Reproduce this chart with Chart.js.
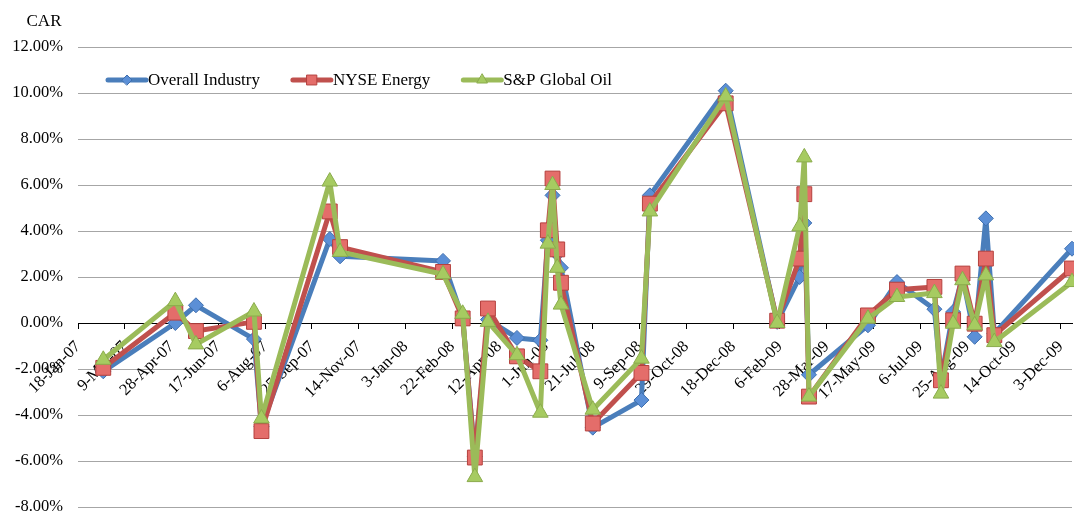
<!DOCTYPE html>
<html>
<head>
<meta charset="utf-8">
<script src="https://cdn.jsdelivr.net/npm/chart.js@4.4.0/dist/chart.umd.min.js"></script>
<style>
html, body { margin: 0; padding: 0; background: #fff; }
#wrap { width: 1074px; height: 515px; }
</style>
</head>
<body>
<div id="wrap"><canvas id="car-chart" width="1074" height="515"></canvas></div>
<script>
// Event dates and CAR (%) per index
const eventDates = [
    '2007-02-14', '2007-05-02', '2007-05-24', '2007-07-25', '2007-08-02',
    '2007-10-14', '2007-10-25', '2008-02-12', '2008-03-04', '2008-03-17',
    '2008-03-31', '2008-05-01', '2008-05-26', '2008-06-03', '2008-06-08',
    '2008-06-13', '2008-06-17', '2008-07-21', '2008-09-11', '2008-09-20',
    '2008-12-10', '2009-02-03', '2009-02-27', '2009-03-04', '2009-03-09',
    '2009-05-11', '2009-06-11', '2009-07-21', '2009-07-28', '2009-08-10',
    '2009-08-20', '2009-09-02', '2009-09-14', '2009-09-23', '2009-12-15'
];
const overallIndustry = [
    -2.1, 0.0, 0.77, -0.7, -4.5,
    3.65, 2.9, 2.7, 0.2, -5.8,
    0.15, -0.65, -0.75, 3.6, 5.55,
    3.0, 2.4, -4.55, -3.35, 5.55,
    10.1, 0.05, 2.0, 4.35, -2.25,
    -0.1, 1.78, 0.6, -2.45, 0.48,
    2.0, -0.6, 4.55, -0.45, 3.23
];
const nyseEnergy = [
    -1.95, 0.45, -0.35, 0.05, -4.7,
    4.85, 3.3, 2.22, 0.2, -5.85,
    0.63, -1.45, -2.1, 4.03, 6.28,
    3.2, 1.75, -4.37, -2.17, 5.19,
    9.55, 0.1, 2.8, 5.6, -3.2,
    0.33, 1.45, 1.57, -2.49, 0.12,
    2.15, -0.03, 2.8, -0.53, 2.37
];
const spGlobalOil = [
    -1.6, 0.95, -0.93, 0.5, -4.15,
    6.15, 3.09, 2.12, 0.4, -6.7,
    0.05, -1.4, -3.9, 3.45, 6.0,
    2.4, 0.8, -3.77, -1.55, 4.85,
    9.85, 0.0, 4.2, 7.2, -3.2,
    0.19, 1.13, 1.3, -3.07, -0.03,
    1.86, -0.1, 2.07, -0.83, 1.78
];
const tickLabels = [
    '18-Jan-07', '9-Mar-07', '28-Apr-07', '17-Jun-07', '6-Aug-07', '25-Sep-07',
    '14-Nov-07', '3-Jan-08', '22-Feb-08', '12-Apr-08', '1-Jun-08', '21-Jul-08',
    '9-Sep-08', '29-Oct-08', '18-Dec-08', '6-Feb-09', '28-Mar-09', '17-May-09',
    '6-Jul-09', '25-Aug-09', '14-Oct-09', '3-Dec-09'
];
const yAxisTitle = 'CAR';

const MONTHS = ['Jan', 'Feb', 'Mar', 'Apr', 'May', 'Jun', 'Jul', 'Aug', 'Sep', 'Oct', 'Nov', 'Dec'];
const DAY_MS = 86400000;
const FONT = '"Liberation Serif", "Times New Roman", serif';

function labelToUTC(s) {
    const parts = s.split('-');
    return Date.UTC(2000 + Number(parts[2]), MONTHS.indexOf(parts[1]), Number(parts[0]));
}
const axisStart = labelToUTC(tickLabels[0]);
function isoToDay(s) {
    const p = s.split('-').map(Number);
    return (Date.UTC(p[0], p[1] - 1, p[2]) - axisStart) / DAY_MS;
}
const tickDays = tickLabels.map(l => (labelToUTC(l) - axisStart) / DAY_MS);
const xDays = eventDates.map(isoToDay);

function toPoints(values) {
    return values.map((v, i) => ({ x: xDays[i], y: v }));
}

// Excel-like legend inside the plot + axis title
const excelLegend = {
    id: 'excelLegend',
    afterDraw(chart) {
        const ctx = chart.ctx;
        ctx.save();
        ctx.font = '17px ' + FONT;
        ctx.fillStyle = '#000';
        ctx.textBaseline = 'middle';
        ctx.textAlign = 'center';
        ctx.fillText(yAxisTitle, 44, 22);

        ctx.textAlign = 'left';
        let x = 108;
        const y = 80;
        chart.data.datasets.forEach(ds => {
            ctx.strokeStyle = ds.borderColor;
            ctx.lineWidth = 5;
            ctx.lineCap = 'round';
            ctx.beginPath();
            ctx.moveTo(x, y);
            ctx.lineTo(x + 38, y);
            ctx.stroke();
            ctx.fillStyle = ds.pointBackgroundColor;
            ctx.strokeStyle = ds.pointBorderColor;
            ctx.lineWidth = 1;
            Chart.helpers.drawPoint(ctx, { pointStyle: ds.pointStyle, radius: ds.legendRadius, borderWidth: 1, rotation: 0 }, x + 19, y);
            ctx.fillStyle = '#000';
            ctx.fillText(ds.label, x + 40, y + 1);
            x += 40 + ctx.measureText(ds.label).width + 33;
        });
        ctx.restore();
    }
};

const ctx = document.getElementById('car-chart').getContext('2d');
const carChart = new Chart(ctx, {
    type: 'line',
    data: {
        datasets: [{
            label: 'Overall Industry',
            data: toPoints(overallIndustry),
            borderColor: '#4a7ebb',
            pointBackgroundColor: '#5b8fd6',
            pointBorderColor: '#3f6fae',
            pointStyle: 'rectRot',
            pointRadius: 7.5,
            legendRadius: 5,
            order: 2
        }, {
            label: 'NYSE Energy',
            data: toPoints(nyseEnergy),
            borderColor: '#c0504d',
            pointBackgroundColor: '#e46d6a',
            pointBorderColor: '#b5413e',
            pointStyle: 'rect',
            pointRadius: 10.5,
            legendRadius: 7,
            order: 1
        }, {
            label: 'S&P Global Oil',
            data: toPoints(spGlobalOil),
            borderColor: '#9bbb59',
            pointBackgroundColor: '#a6cb61',
            pointBorderColor: '#8aab4c',
            pointStyle: 'triangle',
            pointRadius: 9,
            legendRadius: 6,
            order: 0
        }]
    },
    options: {
        responsive: false,
        animation: false,
        devicePixelRatio: 1,
        layout: { autoPadding: false, padding: { top: 47, right: 2, bottom: 8, left: 0 } },
        elements: {
            line: { borderWidth: 5, tension: 0, borderJoinStyle: 'round', borderCapStyle: 'round' },
            point: { borderWidth: 1, hoverRadius: 10 }
        },
        datasets: { line: { clip: false } },
        plugins: {
            legend: { display: false },
            tooltip: { enabled: false }
        },
        scales: {
            x: {
                type: 'linear',
                position: { y: 0 },
                min: 0,
                max: xDays[xDays.length - 1],
                afterBuildTicks: scale => {
                    scale.ticks = tickDays.map(v => ({ value: v }));
                },
                afterFit: scale => {
                    // axis sits inside the plot, so it must not take room
                    scale.paddingLeft = 0;
                    scale.paddingRight = 0;
                    scale.paddingTop = 0;
                    scale.paddingBottom = 0;
                },
                ticks: {
                    autoSkip: false,
                    minRotation: 45,
                    maxRotation: 45,
                    padding: 9,
                    color: '#000',
                    font: { family: FONT, size: 16.5 },
                    callback: (value, i) => tickLabels[i]
                },
                grid: { drawOnChartArea: false, drawTicks: true, tickLength: 5, color: '#000' },
                border: { display: true, color: '#000', width: 1 }
            },
            y: {
                min: -8,
                max: 12,
                afterFit: scale => {
                    scale.width = 78;
                    scale.paddingTop = 0;
                    scale.paddingBottom = 0;
                },
                ticks: {
                    stepSize: 2,
                    padding: 15,
                    color: '#000',
                    font: { family: FONT, size: 16.5 },
                    callback: v => v.toFixed(2) + '%'
                },
                grid: {
                    drawTicks: false,
                    color: c => (c.tick && c.tick.value === 0 ? '#000' : '#a6a6a6')
                },
                border: { display: false }
            }
        }
    },
    plugins: [excelLegend]
});
</script>
</body>
</html>
